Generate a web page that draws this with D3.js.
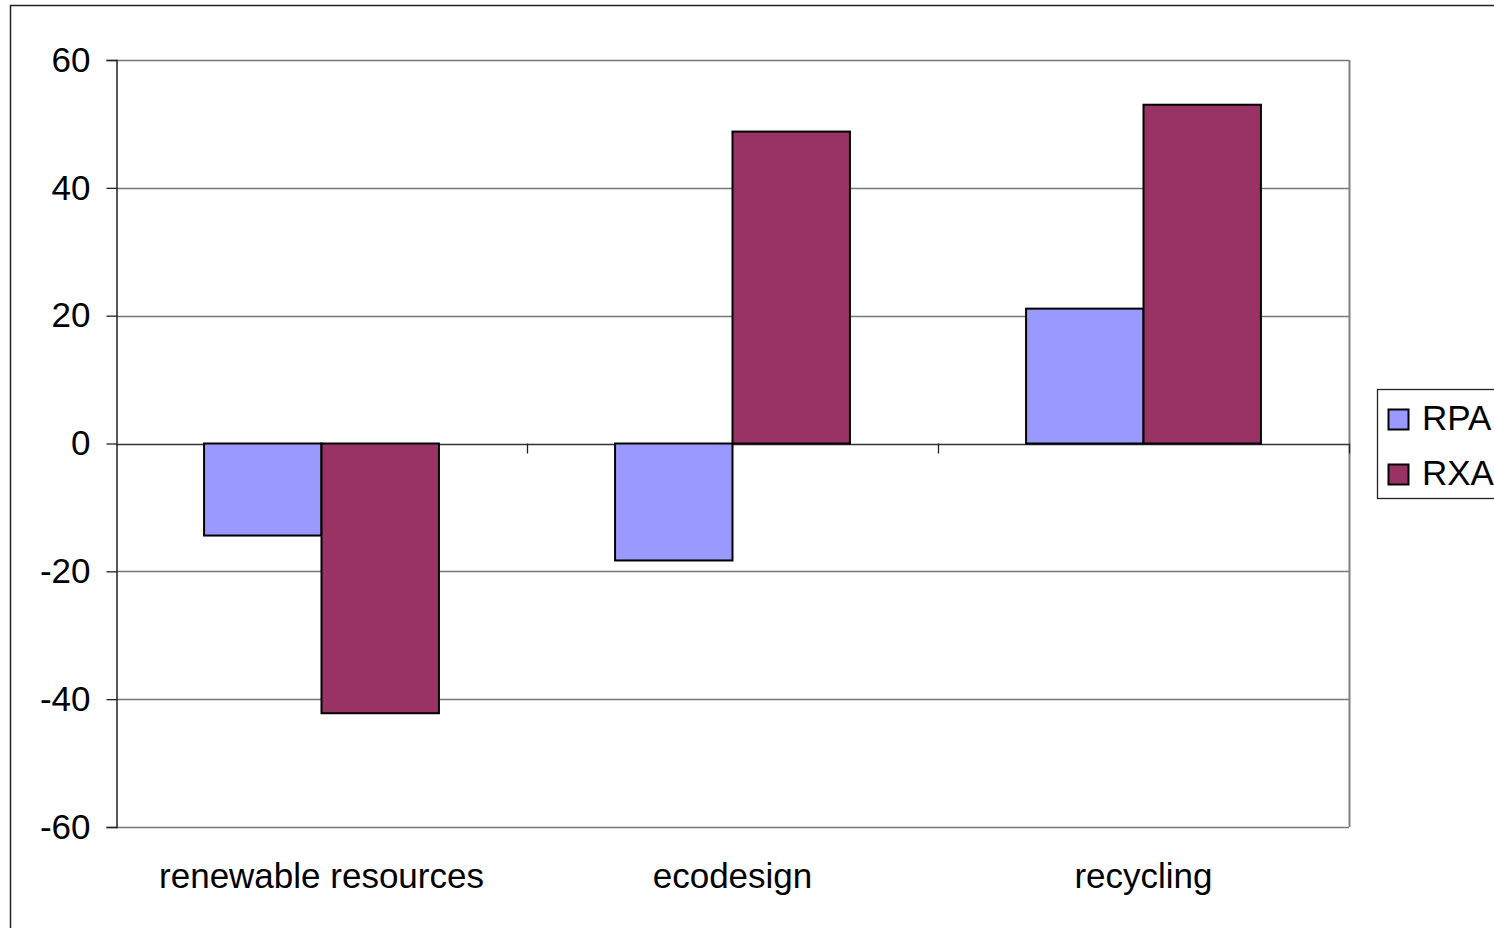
<!DOCTYPE html>
<html>
<head>
<meta charset="utf-8">
<script src="https://cdn.jsdelivr.net/npm/d3@7"></script>
<style>
html,body{margin:0;padding:0;background:#fff;}
svg{display:block;font-family:"Liberation Sans",Arial,sans-serif;}
</style>
</head>
<body>
<svg id="chart" width="1494" height="928"></svg>
<script>
const categories = ["renewable resources", "ecodesign", "recycling"];
const seriesNames = ["RPA", "RXA"];
const rpaValues = [-14.4, -18.3, 21.1];
const rxaValues = [-42.2, 48.8, 53.0];
const yTicks = [60, 40, 20, 0, -20, -40, -60];
const colors = ["#9999FF", "#993366"];

const svg = d3.select("#chart");
const W = 1494, H = 928;
const plot = {left: 116, right: 1349, top: 60, bottom: 827};
const FS = 35;

// outer chart border
svg.append("rect").attr("x", 10.5).attr("y", 5.5).attr("width", W).attr("height", H)
  .attr("fill", "#fff").attr("stroke", "#222").attr("stroke-width", 1.5);

const y = d3.scaleLinear().domain([-60, 60]).range([plot.bottom, plot.top]);
const x0 = d3.scaleBand().domain(categories).range([plot.left, plot.right]).paddingInner(0).paddingOuter(0);
// Excel gap width 150% -> bars occupy 2/3.5 of category
const groupFrac = 2 / 3.5;
const x1 = d3.scaleBand().domain(seriesNames)
  .range([0, x0.bandwidth() * groupFrac]);

// gridlines
svg.append("g").selectAll("line").data(yTicks).join("line")
  .attr("x1", plot.left).attr("x2", plot.right)
  .attr("y1", d => Math.round(y(d)) + 0.5).attr("y2", d => Math.round(y(d)) + 0.5)
  .attr("stroke", d => d === 0 ? "#333" : "#777").attr("stroke-width", 1.3);

// plot border right
svg.append("line").attr("x1", plot.right + 0.5).attr("x2", plot.right + 0.5)
  .attr("y1", plot.top).attr("y2", plot.bottom)
  .attr("stroke", "#808080").attr("stroke-width", 2);

// y axis
const yAxis = d3.axisLeft(y).tickValues(yTicks).tickSize(10).tickPadding(16).tickFormat(d => String(d));
const gy = svg.append("g").attr("transform", `translate(${plot.left + 0.5},0)`).call(yAxis);
gy.select(".domain").attr("stroke", "#222").attr("stroke-width", 1.5);
gy.selectAll(".tick line").attr("stroke", "#222").attr("stroke-width", 1.3);
gy.selectAll(".tick text").attr("font-size", FS).attr("fill", "#000")
  .attr("font-family", "'Liberation Sans', Arial, sans-serif");

// x axis ticks on zero line
const boundaries = categories.slice(1).map(c => x0(c));
svg.append("g").selectAll("line").data(boundaries.concat([plot.right])).join("line")
  .attr("x1", d => Math.round(d) + 0.5).attr("x2", d => Math.round(d) + 0.5)
  .attr("y1", y(0)).attr("y2", y(0) + 10)
  .attr("stroke", "#222").attr("stroke-width", 1.3);

// bars
const data = categories.map((c, i) => ({cat: c, vals: [rpaValues[i], rxaValues[i]]}));
const groupOffset = (x0.bandwidth() - x0.bandwidth() * groupFrac) / 2;
const groups = svg.append("g").selectAll("g").data(data).join("g")
  .attr("transform", d => `translate(${x0(d.cat) + groupOffset},0)`);
groups.selectAll("rect").data(d => d.vals.map((v, j) => ({s: seriesNames[j], v, j})))
  .join("rect")
  .attr("x", d => x1(d.s))
  .attr("width", x1.bandwidth())
  .attr("y", d => Math.min(y(d.v), y(0)))
  .attr("height", d => Math.abs(y(d.v) - y(0)))
  .attr("fill", d => colors[d.j])
  .attr("stroke", "#000").attr("stroke-width", 2);

// category labels
svg.append("g").selectAll("text").data(categories).join("text")
  .attr("x", d => x0(d) + x0.bandwidth() / 2)
  .attr("y", 888)
  .attr("text-anchor", "middle")
  .attr("font-size", FS).attr("fill", "#000")
  .text(d => d);

// legend
const lg = svg.append("g");
lg.append("rect").attr("x", 1377.5).attr("y", 389.5).attr("width", 140).attr("height", 109)
  .attr("fill", "#fff").attr("stroke", "#222").attr("stroke-width", 1.3);
const items = lg.selectAll("g").data(seriesNames).join("g")
  .attr("transform", (d, i) => `translate(1388,${409 + i * 55})`);
items.append("rect").attr("x", 0.5).attr("y", 0.5).attr("width", 20).attr("height", 20)
  .attr("fill", (d, i) => colors[i]).attr("stroke", "#000").attr("stroke-width", 2);
items.append("text").attr("x", 34).attr("y", 21).attr("font-size", FS).attr("fill", "#000")
  .text(d => d);
</script>
</body>
</html>
